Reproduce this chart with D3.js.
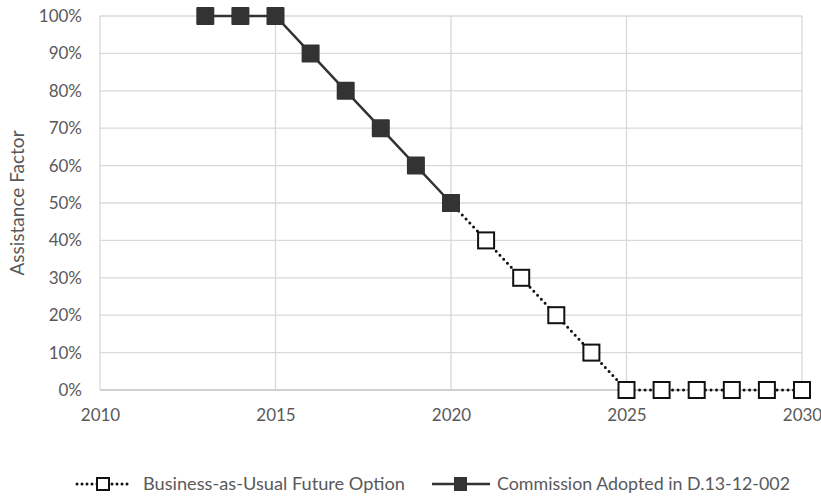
<!DOCTYPE html>
<html>
<head>
<meta charset="utf-8">
<script src="https://cdn.jsdelivr.net/npm/d3@7"></script>
<style>
  body { margin: 0; background: #fff; }
  svg { display: block; font-family: Lato, "Open Sans", sans-serif; }
</style>
</head>
<body>
<svg id="chart" width="821" height="496"></svg>
<script>
// Assistance factor by year (fraction of 1)
const commissionYears = [2013, 2014, 2015, 2016, 2017, 2018, 2019, 2020];
const commissionValues = [1.0, 1.0, 1.0, 0.9, 0.8, 0.7, 0.6, 0.5];
const bauYears = [2020, 2021, 2022, 2023, 2024, 2025, 2026, 2027, 2028, 2029, 2030];
const bauValues = [0.5, 0.4, 0.3, 0.2, 0.1, 0, 0, 0, 0, 0, 0];
const xTicks = [2010, 2015, 2020, 2025, 2030];
const yTicks = [0, 0.1, 0.2, 0.3, 0.4, 0.5, 0.6, 0.7, 0.8, 0.9, 1.0];
const seriesNames = ["Business-as-Usual Future Option", "Commission Adopted in D.13-12-002"];

(function () {
const svg = d3.select("#chart");
const m = { left: 100, right: 802, top: 16, bottom: 390 };

const x = d3.scaleLinear().domain([2010, 2030]).range([m.left, m.right]);
const y = d3.scaleLinear().domain([0, 1]).range([m.bottom, m.top]);

const gridColor = "#d9d9d9";
const textColor = "#595959";
const markColor = "#333333";
const tickFont = "17px";

// gridlines
svg.append("g").selectAll("line").data(yTicks).join("line")
  .attr("x1", m.left).attr("x2", m.right)
  .attr("y1", d => y(d)).attr("y2", d => y(d))
  .attr("stroke", d => d === 0 ? "#bfbfbf" : gridColor).attr("stroke-width", d => d === 0 ? 1.5 : 1.3);
svg.append("g").selectAll("line").data(xTicks).join("line")
  .attr("x1", d => x(d)).attr("x2", d => x(d))
  .attr("y1", m.top).attr("y2", m.bottom)
  .attr("stroke", gridColor).attr("stroke-width", 1.3);

// axes (labels only)
const yAxis = d3.axisLeft(y).tickValues(yTicks).tickFormat(d3.format(".0%")).tickSize(0).tickPadding(18);
const gy = svg.append("g").attr("transform", `translate(${m.left},0)`).call(yAxis);
const xAxis = d3.axisBottom(x).tickValues(xTicks).tickFormat(d3.format("d")).tickSize(0).tickPadding(19);
const gx = svg.append("g").attr("transform", `translate(0,${m.bottom})`).call(xAxis);
[gx, gy].forEach(g => {
  g.select(".domain").remove();
  g.selectAll("text").attr("fill", textColor).style("font-size", tickFont).style("font-family", "Lato, 'Open Sans', sans-serif");
});

// y-axis title
svg.append("text")
  .attr("transform", `translate(24,${(m.top + m.bottom) / 2}) rotate(-90)`)
  .attr("text-anchor", "middle")
  .attr("fill", textColor).style("font-size", "19px")
  .text("Assistance Factor");

const line = d3.line().x(d => x(d[0])).y(d => y(d[1]));
const bauData = bauYears.map((yr, i) => [yr, bauValues[i]]);
const comData = commissionYears.map((yr, i) => [yr, commissionValues[i]]);

const ms = 18;

// business-as-usual series
svg.append("path").datum(bauData).attr("d", line)
  .attr("fill", "none").attr("stroke", "#111").attr("stroke-width", 3)
  .attr("stroke-dasharray", "0,5.5").attr("stroke-linecap", "round");
svg.append("g").selectAll("rect").data(bauData).join("rect")
  .attr("x", d => x(d[0]) - ms / 2 + 1).attr("y", d => y(d[1]) - ms / 2 + 1)
  .attr("width", ms - 2).attr("height", ms - 2)
  .attr("fill", "#fff").attr("stroke", "#111").attr("stroke-width", 2);

// commission series
svg.append("path").datum(comData).attr("d", line)
  .attr("fill", "none").attr("stroke", markColor).attr("stroke-width", 2.5);
svg.append("g").selectAll("rect").data(comData).join("rect")
  .attr("x", d => x(d[0]) - ms / 2).attr("y", d => y(d[1]) - ms / 2)
  .attr("width", ms).attr("height", ms).attr("rx", 1)
  .attr("fill", markColor);

// legend
const ly = 484;
const lg = svg.append("g");
lg.append("line").attr("x1", 77).attr("x2", 128).attr("y1", ly).attr("y2", ly)
  .attr("stroke", "#111").attr("stroke-width", 3).attr("stroke-dasharray", "0,5").attr("stroke-linecap", "round");
lg.append("rect").attr("x", 97).attr("y", ly - 6).attr("width", 12).attr("height", 12)
  .attr("fill", "#fff").attr("stroke", "#111").attr("stroke-width", 2);
lg.append("text").attr("x", 143).attr("y", ly + 6).attr("fill", textColor).style("font-size", "18px")
  .attr("textLength", 262).attr("lengthAdjust", "spacingAndGlyphs").text(seriesNames[0]);

lg.append("line").attr("x1", 432).attr("x2", 490).attr("y1", ly).attr("y2", ly)
  .attr("stroke", markColor).attr("stroke-width", 2.5);
lg.append("rect").attr("x", 454).attr("y", ly - 7).attr("width", 13).attr("height", 14)
  .attr("fill", markColor);
lg.append("text").attr("x", 497).attr("y", ly + 6).attr("fill", textColor).style("font-size", "18px")
  .attr("textLength", 293).attr("lengthAdjust", "spacingAndGlyphs").text(seriesNames[1]);
})();
</script>
</body>
</html>
